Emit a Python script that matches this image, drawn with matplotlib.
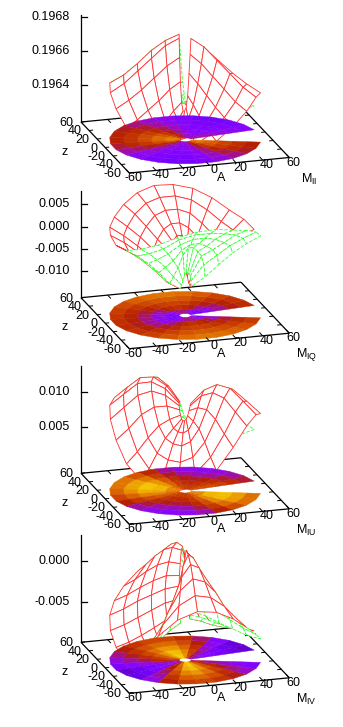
import numpy as np
import matplotlib
matplotlib.use('Agg')
import matplotlib.pyplot as plt
from matplotlib.collections import PolyCollection
from matplotlib.colors import LinearSegmentedColormap, Normalize
from matplotlib.patches import Polygon

plt.rcParams['font.family'] = ['Liberation Sans', 'DejaVu Sans']
plt.rcParams['mathtext.fontset'] = 'custom'
plt.rcParams['mathtext.rm'] = 'Liberation Sans'

# polar grid of the data, angle in degrees
radii = [4.4, 14.4, 24.4, 34.4, 44.4, 54.4]
angles = [7.5, 22.5, 37.5, 52.5, 67.5, 82.5, 97.5, 112.5, 127.5, 142.5, 157.5, 172.5,
          187.5, 202.5, 217.5, 232.5, 247.5, 262.5, 277.5, 292.5, 307.5, 322.5, 337.5]
ground_ticks = [-60, -40, -20, 0, 20, 40, 60]

# one row per radius, one column per angle
m_ii = 0.196 + 1e-5 * np.array([
    [49, 41, 36, 36, 38, 44, 51, 60, 70, 78, 80, 78, 67, 53, 41, 36, 36, 38, 45, 58, 69, 78, 76],
    [45, 37, 33, 32, 34, 40, 47, 56, 66, 74, 76, 74, 63, 50, 38, 33, 32, 34, 42, 54, 65, 74, 72],
    [41, 34, 30, 29, 31, 36, 43, 51, 61, 67, 70, 67, 57, 45, 34, 30, 29, 31, 38, 49, 59, 67, 65],
    [37, 31, 27, 27, 29, 33, 39, 46, 54, 60, 62, 60, 51, 41, 31, 27, 27, 29, 35, 44, 53, 60, 58],
    [34, 29, 26, 25, 26, 30, 35, 41, 48, 53, 55, 53, 46, 37, 29, 26, 25, 26, 32, 40, 47, 53, 52],
    [32, 27, 24, 24, 25, 29, 33, 38, 44, 48, 50, 48, 42, 34, 27, 24, 24, 25, 30, 37, 43, 48, 47],
])
m_iq = 1e-4 * np.array([
    [-97, -95, -91, -77, -66, -59, -50, -60, -72, -84, -88, -91, -97, -97, -88, -79, -66, -59, -59, -64, -70, -81, -95],
    [-79, -75, -61, -32, -7, 6, 6, -5, -25, -48, -61, -66, -79, -79, -61, -39, -9, 6, 6, -5, -18, -41, -72],
    [-48, -43, -34, -7, 13, 24, 24, 15, -3, -21, -32, -36, -48, -48, -32, -14, 11, 24, 24, 15, 2, -16, -43],
    [-21, -18, -7, 15, 36, 45, 45, 38, 20, 4, -7, -12, -21, -21, -7, 11, 33, 45, 45, 38, 24, 9, -16],
    [2, 4, 15, 36, 56, 65, 65, 58, 42, 24, 15, 11, 2, 2, 15, 31, 54, 65, 65, 58, 47, 29, 6],
    [11, 22, 33, 54, 72, 81, 83, 74, 58, 42, 33, 29, 20, 20, 33, 49, 69, 81, 83, 74, 63, 47, 24],
])
m_iu = 1e-4 * np.array([
    [97, 94, 90, 88, 87, 89, 95, 102, 109, 110, 109, 106, 101, 94, 89, 87, 87, 89, 94, 101, 107, 110, 108],
    [100, 92, 83, 78, 77, 81, 95, 113, 128, 131, 129, 122, 109, 92, 81, 77, 76, 80, 92, 110, 125, 131, 126],
    [99, 87, 74, 68, 66, 72, 91, 116, 137, 141, 138, 129, 110, 87, 72, 66, 64, 70, 87, 112, 133, 141, 135],
    [88, 74, 59, 52, 49, 56, 79, 109, 133, 138, 135, 124, 102, 74, 56, 49, 47, 54, 74, 103, 129, 138, 131],
    [72, 58, 42, 35, 32, 39, 62, 93, 118, 122, 119, 108, 85, 58, 39, 32, 30, 37, 58, 87, 113, 122, 115],
    [58, 45, 30, 23, 21, 28, 49, 78, 101, 105, 103, 92, 71, 45, 28, 21, 19, 26, 45, 73, 97, 105, 98],
])
m_iv = 1e-4 * np.array([
    [-45, -50, -41, -17, 12, 31, 37, 33, 17, 3, -9, -24, -41, -52, -35, -3, 24, 37, 33, 17, -3, -23, -39],
    [-51, -56, -46, -20, 10, 30, 37, 32, 16, 1, -13, -28, -46, -58, -39, -6, 23, 37, 32, 16, -6, -27, -44],
    [-59, -64, -54, -28, 3, 23, 30, 25, 9, -7, -21, -36, -54, -67, -48, -14, 15, 30, 25, 9, -14, -35, -52],
    [-66, -70, -61, -37, -8, 11, 18, 13, -2, -17, -29, -44, -61, -73, -55, -23, 4, 18, 13, -2, -23, -43, -59],
    [-71, -75, -67, -45, -19, -2, 3, -1, -15, -28, -39, -52, -67, -78, -62, -33, -9, 3, -1, -15, -33, -51, -66],
    [-75, -78, -71, -52, -30, -16, -11, -14, -26, -37, -47, -58, -71, -80, -66, -42, -21, -11, -14, -26, -42, -57, -70],
])

ticks_ii = [0.1968, 0.1966, 0.1964]
ticks_iq = [0.005, 0.0, -0.005, -0.010]
ticks_iu = [0.010, 0.005]
ticks_iv = [0.0, -0.005]

# values, name, vertical ticks, tick format, base level, top level, colour range, y of back left corner
panels = [
    (m_ii, r'M$_{\mathrm{II}}$', ticks_ii, '%.4f', 0.19618, 0.19681, (0.19605, 0.19695), 122.0),
    (m_iq, r'M$_{\mathrm{IQ}}$', ticks_iq, '%.3f', -0.01603, 0.00807, (-0.01477, 0.01392), 297.7),
    (m_iu, r'M$_{\mathrm{IU}}$', ticks_iu, '%.3f', -0.00151, 0.01364, (-0.00264, 0.01534), 473.3),
    (m_iv, r'M$_{\mathrm{IV}}$', ticks_iv, '%.3f', -0.00984, 0.00311, (-0.0097, 0.00444), 642.3),
]

# gnuplot's default pm3d palette (rgbformulae 7,5,15)
g = np.linspace(0, 1, 256)
pm3d = LinearSegmentedColormap.from_list('pm3d', np.column_stack(
    [np.sqrt(g), g ** 3, np.clip(np.sin(2 * np.pi * g), 0, 1)]))

fig = plt.figure(figsize=(3.43, 7.27), dpi=100)
ax = fig.add_axes([0, 0, 1, 1])
ax.set_xlim(0, 343)
ax.set_ylim(727, 0)
ax.axis('off')

BLACK_LW = 0.9
AXIS_H = 107.0


def draw_panel(vals, name, zticks, fmt, zlo, zhi, crange, y0):
    scale = AXIS_H / (zhi - zlo)

    # orthographic view, pixels per unit of A and of z
    def project(a, z, m=None):
        a = np.asarray(a, dtype=float)
        z = np.asarray(z, dtype=float)
        x = 81 + (a + 60) * 160 / 120 + (60 - z) * 48.3 / 120
        y = y0 - (a + 60) * 15.5 / 120 + (60 - z) * 51 / 120
        if m is not None:
            y = y - (m - zlo) * scale
        return x, y

    def ground_line(a, z, zorder, lw=BLACK_LW):
        x, y = project(a, z)
        ax.plot(x, y, color='black', lw=lw, zorder=zorder, solid_capstyle='butt')

    # back edges and vertical axis
    ground_line([-60, 60], [60, 60], 1)
    ground_line([60, 60], [60, -60], 1)
    ax.plot([81, 81], [y0, y0 - AXIS_H], color='black', lw=BLACK_LW, zorder=1)
    for t in zticks:
        yt = y0 - (t - zlo) * scale
        ax.plot([81, 87], [yt, yt], color='black', lw=BLACK_LW, zorder=1)
        ax.text(69.5, yt, fmt % t, ha='right', va='center', fontsize=9)

    # ticks on the back edges
    for t in ground_ticks[1:-1]:
        ground_line([t, t], [60, 52], 1, 0.7)
        ground_line([60, 57], [t, t], 1, 0.7)

    aa = np.outer(radii, np.cos(np.radians(angles)))
    zz = np.outer(radii, np.sin(np.radians(angles)))
    sx, sy = project(aa, zz, vals)
    gx, gy = project(aa, zz)

    # mesh, far quads first, white faces hide what is behind
    quads = []
    for i in range(len(radii) - 1):
        for j in range(len(angles) - 1):
            idx = [(i, j), (i + 1, j), (i + 1, j + 1), (i, j + 1)]
            pts = [(sx[p], sy[p]) for p in idx]
            depth = np.mean([-(0.287 * aa[p] + 0.958 * zz[p]) * 0.947
                             + (vals[p] - zlo) * scale / 1.318 * 0.3225 for p in idx])
            area = sum(pts[k][0] * pts[(k + 1) % 4][1] - pts[(k + 1) % 4][0] * pts[k][1]
                       for k in range(4))
            quads.append((depth, pts, area))
    quads.sort(key=lambda q: q[0])
    for n, (depth, pts, area) in enumerate(quads):
        top = area < 0
        ax.add_patch(Polygon(pts, closed=True, facecolor='white',
                             edgecolor='#ff3030' if top else '#30ff30',
                             lw=0.6, ls='-' if top else (0, (4, 2)),
                             zorder=2 + n * 0.001))

    # coloured disc on the base plane
    verts = []
    cols = []
    for i in range(len(radii) - 1):
        for j in range(len(angles) - 1):
            idx = [(i, j), (i + 1, j), (i + 1, j + 1), (i, j + 1)]
            verts.append([(gx[p], gy[p]) for p in idx])
            cols.append(np.mean([vals[p] for p in idx]))
    disc = PolyCollection(verts, array=np.array(cols), cmap=pm3d,
                          norm=Normalize(*crange), edgecolors='face', linewidths=0.3, zorder=3)
    ax.add_collection(disc)

    # front edges, ticks, labels
    ground_line([-60, -60], [60, -60], 4)
    ground_line([-60, 60], [-60, -60], 4)
    for t in ground_ticks:
        ground_line([-60, -57], [t, t], 4, 0.7)
        ground_line([t, t], [-60, -52], 4, 0.7)
        xz, yz = project(-60, t)
        ax.text(xz - 7.5, yz + 1, str(t), ha='right', va='center', fontsize=9)
        xa, ya = project(t, -60)
        ax.text(xa + 4.5, ya + 5, str(t), ha='center', va='center', fontsize=9)

    ax.text(221, y0 + 56, 'A', ha='center', va='center', fontsize=9)
    ax.text(65, y0 + 29.7, 'z', ha='center', va='center', fontsize=9)
    ax.text(317, y0 + 57, name, ha='right', va='center', fontsize=9)


for p in panels:
    draw_panel(*p)

fig.savefig('out.png', dpi=100)
